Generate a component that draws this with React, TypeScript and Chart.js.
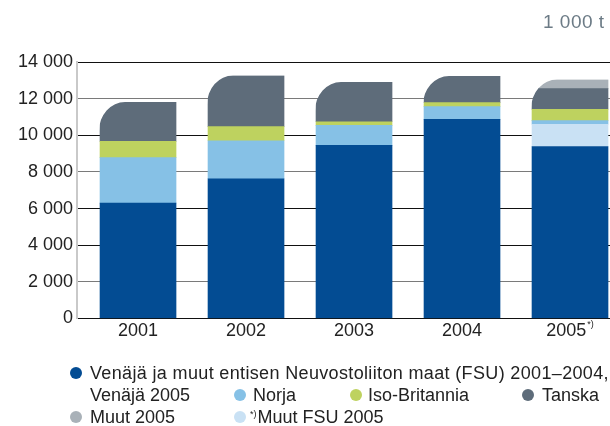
import React, { useEffect, useRef } from 'react';
import { Chart, registerables } from 'chart.js';

Chart.register(...registerables);

// ---- data ----
const years = [2001, 2002, 2003, 2004, 2005];
const yearLabels = ['2001', '2002', '2003', '2004', '2005'];
const yearSuffixes = ['', '', '', '', '*)'];

const fsu = [6300, 7630, 9450, 10870, 9390];
const muutFsu = [null, null, null, null, 1210];
const norja = [2480, 2070, 1090, 690, 200];
const isoBritannia = [890, 770, 200, 220, 620];
const tanska = [2150, 2790, 2170, 1460, 1130];
const muut = [null, null, null, null, 490];

const fsuLabelLine1 = 'Venäjä ja muut entisen Neuvostoliiton maat (FSU) 2001–2004,';
const fsuLabelLine2 = 'Venäjä 2005';
const norjaLabel = 'Norja';
const isoLabel = 'Iso-Britannia';
const tanskaLabel = 'Tanska';
const muutLabel = 'Muut 2005';
const muutFsuSup = '*)';
const muutFsuLabel = 'Muut FSU 2005';
const unitLabel = '1 000 t';

const yMin = 0;
const yMax = 14000;
const yStep = 2000;

const C_FSU = '#034c93';
const C_NORJA = '#86c1e6';
const C_ISO = '#bed25f';
const C_TANSKA = '#5e6c7a';
const C_MUUT = '#a9b1b8';
const C_MUUTFSU = '#c9e1f4';

const FONT = '"Liberation Sans", Arial, Helvetica, sans-serif';

const fmt = (v: number) => String(v).replace(/\B(?=(\d{3})+(?!\d))/g, ' ');

const roundTopLeft = {
  id: 'roundTopLeft',
  beforeDatasetsDraw(chart: any) {
    const ctx = chart.ctx;
    ctx.save();
    ctx.beginPath();
    const n = years.length;
    for (let i = 0; i < n; i++) {
      let top = Infinity, bottom = -Infinity, left = 0, right = 0, found = false;
      chart.data.datasets.forEach((ds: any, di: number) => {
        const el = chart.getDatasetMeta(di).data[i];
        const v = ds.data[i];
        if (!el || v == null || v === 0) return;
        const p = el.getProps(['x', 'y', 'base', 'width'], true);
        top = Math.min(top, p.y, p.base);
        bottom = Math.max(bottom, p.y, p.base);
        left = p.x - p.width / 2;
        right = p.x + p.width / 2;
        found = true;
      });
      if (!found) continue;
      const rx = 25;
      const ry = Math.min(29, bottom - top);
      ctx.moveTo(left - 1, bottom + 1);
      ctx.lineTo(left - 1, top + ry);
      ctx.ellipse(left + rx, top + ry, rx + 1, ry, 0, Math.PI, 1.5 * Math.PI);
      ctx.lineTo(right + 1, top);
      ctx.lineTo(right + 1, bottom + 1);
      ctx.closePath();
    }
    ctx.clip();
  },
  afterDatasetsDraw(chart: any) {
    chart.ctx.restore();
  },
};

const xLabelPlugin = {
  id: 'xLabelPlugin',
  afterDraw(chart: any) {
    const ctx = chart.ctx;
    const xs = chart.scales.x;
    ctx.save();
    ctx.fillStyle = '#222';
    ctx.textBaseline = 'middle';
    ctx.textAlign = 'left';
    years.forEach((yr, i) => {
      const cx = xs.getPixelForValue(yr);
      ctx.font = `18px ${FONT}`;
      const w1 = ctx.measureText(yearLabels[i]).width;
      let w2 = 0;
      if (yearSuffixes[i]) {
        ctx.font = `9px ${FONT}`;
        w2 = ctx.measureText(yearSuffixes[i]).width + 1;
      }
      const start = cx - (w1 + w2) / 2;
      ctx.font = `18px ${FONT}`;
      ctx.fillText(yearLabels[i], start, 331);
      if (yearSuffixes[i]) {
        ctx.font = `9px ${FONT}`;
        ctx.fillText(yearSuffixes[i], start + w1 + 1, 325);
      }
    });
    ctx.restore();
  },
};

function Dot({ x, y, color }: { x: number; y: number; color: string }) {
  return (
    <div
      style={{
        position: 'absolute',
        left: x - 6,
        top: y - 6,
        width: 12,
        height: 12,
        borderRadius: '50%',
        background: color,
      }}
    />
  );
}

function Txt({ x, y, ls, children }: { x: number; y: number; ls?: number; children: React.ReactNode }) {
  return (
    <div
      style={{
        position: 'absolute',
        left: x,
        top: y - 11,
        height: 22,
        lineHeight: '22px',
        fontFamily: FONT,
        fontSize: 18,
        letterSpacing: ls || 0,
        color: '#222',
        whiteSpace: 'nowrap',
      }}
    >
      {children}
    </div>
  );
}

export default function App() {
  const ref = useRef<HTMLCanvasElement | null>(null);

  useEffect(() => {
    if (!ref.current) return;
    const chart = new Chart(ref.current, {
      type: 'bar',
      data: {
        labels: years,
        datasets: [
          { label: fsuLabelLine1 + ' ' + fsuLabelLine2, data: fsu, backgroundColor: C_FSU },
          { label: muutFsuSup + muutFsuLabel, data: muutFsu, backgroundColor: C_MUUTFSU },
          { label: norjaLabel, data: norja, backgroundColor: C_NORJA },
          { label: isoLabel, data: isoBritannia, backgroundColor: C_ISO },
          { label: tanskaLabel, data: tanska, backgroundColor: C_TANSKA },
          { label: muutLabel, data: muut, backgroundColor: C_MUUT },
        ] as any,
      },
      options: {
        responsive: false,
        animation: false,
        devicePixelRatio: 1,
        datasets: {
          bar: { barThickness: 76, borderWidth: 0 },
        } as any,
        layout: { padding: { top: 62, bottom: 107.5, left: 0, right: 0 } },
        plugins: { legend: { display: false }, tooltip: { enabled: false } },
        scales: {
          x: {
            type: 'linear',
            stacked: true,
            offset: false,
            bounds: 'data',
            min: 2000.435,
            max: 2005.648,
            display: false,
            grid: { offset: false },
          },
          y: {
            stacked: true,
            min: yMin,
            max: yMax,
            afterFit: (scale: any) => {
              scale.width = 77;
            },
            ticks: {
              stepSize: yStep,
              padding: 4,
              color: '#222',
              font: { family: FONT, size: 18 },
              callback: (v: any) => fmt(Number(v)),
            },
            grid: {
              drawTicks: false,
              lineWidth: 1,
              color: (c: any) => {
                const v = c.tick ? c.tick.value : 0;
                return v === 2000 || v === 8000 || v === 12000 ? '#7a7a7a' : '#111';
              },
            },
            border: { display: true, color: '#c9c9c9', width: 2 },
          } as any,
        },
      },
      plugins: [roundTopLeft, xLabelPlugin],
    } as any);
    return () => chart.destroy();
  }, []);

  return (
    <div
      style={{
        position: 'fixed',
        left: 0,
        top: 0,
        width: 610,
        height: 426,
        overflow: 'hidden',
        background: '#fff',
      }}
    >
      <canvas ref={ref} width={640} height={426} style={{ position: 'absolute', left: 0, top: 0 }} />
      <div
        style={{
          position: 'absolute',
          left: 543,
          top: 11,
          fontFamily: FONT,
          fontSize: 19,
          lineHeight: '22px',
          color: '#6c7b86',
          letterSpacing: 0.5,
          whiteSpace: 'nowrap',
        }}
      >
        {unitLabel}
      </div>
      <Dot x={76} y={373} color={C_FSU} />
      <Txt x={90} y={373} ls={0.35}>{fsuLabelLine1}</Txt>
      <Txt x={90} y={395}>{fsuLabelLine2}</Txt>
      <Dot x={240} y={395} color={C_NORJA} />
      <Txt x={253} y={395}>{norjaLabel}</Txt>
      <Dot x={356} y={395} color={C_ISO} />
      <Txt x={368} y={395}>{isoLabel}</Txt>
      <Dot x={528} y={395} color={C_TANSKA} />
      <Txt x={542} y={395}>{tanskaLabel}</Txt>
      <Dot x={76} y={417} color={C_MUUT} />
      <Txt x={90} y={417}>{muutLabel}</Txt>
      <Dot x={240} y={417} color={C_MUUTFSU} />
      <Txt x={250} y={417}>
        <span style={{ fontSize: 9, verticalAlign: 'top', lineHeight: '16px', marginRight: 1 }}>{muutFsuSup}</span>
        {muutFsuLabel}
      </Txt>
    </div>
  );
}
